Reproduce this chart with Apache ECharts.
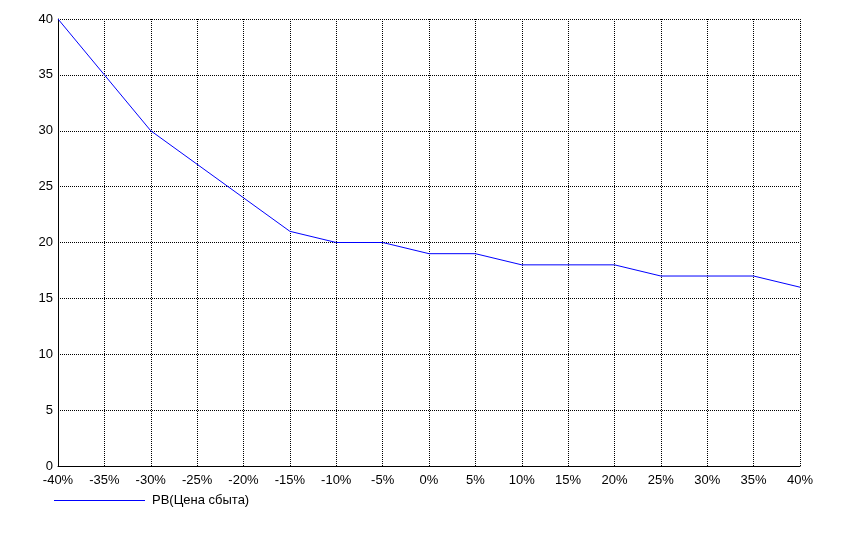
<!DOCTYPE html>
<html><head><meta charset="utf-8">
<script src="https://cdn.jsdelivr.net/npm/echarts@6/dist/echarts.min.js"></script>
<style>html,body{margin:0;padding:0;background:#fff;}#c{width:841px;height:535px;}</style>
</head><body><div id="c"></div>
<script>
var categories = ['-40%','-35%','-30%','-25%','-20%','-15%','-10%','-5%','0%','5%','10%','15%','20%','25%','30%','35%','40%'];
var pbValues = [40,35,30,27,24,21,20,20,19,19,18,18,18,17,17,17,16];
var seriesName = 'PB(Цена сбыта)';
var chart = echarts.init(document.getElementById('c'), null, {renderer:'canvas'});
var font = 'Liberation Sans, Arial, sans-serif';
chart.setOption({
  animation:false,
  backgroundColor:'#fff',
  grid:{left:58,right:41,top:19,bottom:69,containLabel:false},
  legend:{left:54,top:494,padding:0,itemWidth:91,itemHeight:1,icon:'rect',itemGap:10,
    itemStyle:{color:'#0000ff',borderWidth:0},
    textStyle:{color:'#000',fontSize:13,fontFamily:font,padding:[0,0,0,2]},
    data:[{name:seriesName,icon:'rect'}]},
  xAxis:{type:'category',data:categories,boundaryGap:false,
    axisLine:{show:true,lineStyle:{color:'#000',width:1}},
    axisTick:{show:false},
    axisLabel:{color:'#000',fontSize:13,fontFamily:font,margin:8,interval:0},
    splitLine:{show:true,lineStyle:{color:'#000',type:[1,1],width:1}}},
  yAxis:{type:'value',min:0,max:40,interval:5,
    axisLine:{show:true,lineStyle:{color:'#000',width:1}},
    axisTick:{show:false},
    axisLabel:{color:'#000',fontSize:13,fontFamily:font,margin:5},
    splitLine:{show:true,lineStyle:{color:'#000',type:[1,1],width:1}}},
  series:[{name:seriesName,type:'line',data:pbValues,symbol:'none',
    lineStyle:{color:'#0000ff',width:1},itemStyle:{color:'#0000ff'}}]
});
</script></body></html>
